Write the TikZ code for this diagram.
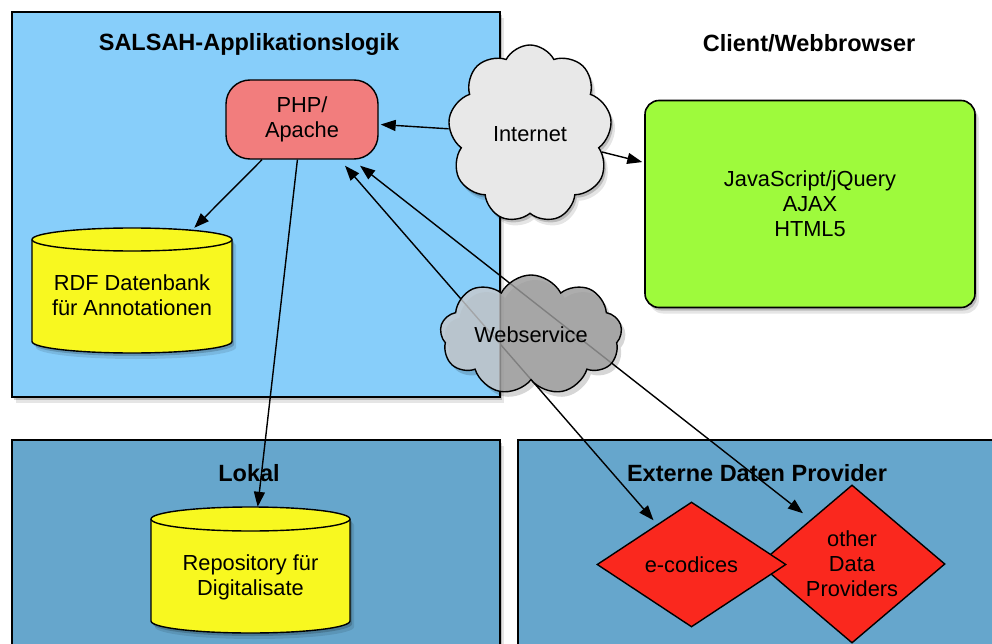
\documentclass[tikz,border=0pt]{standalone}
\usepackage{fontspec}
\setmainfont{Liberation Sans}
\usetikzlibrary{shapes.symbols,shapes.geometric,arrows.meta,calc,shadows}

\definecolor{salsahblue}{RGB}{135,206,250}
\definecolor{darkblue}{RGB}{102,166,204}
\definecolor{clientgreen}{RGB}{158,250,60}
\definecolor{phpred}{RGB}{242,125,125}
\definecolor{dbyellow}{RGB}{248,248,32}
\definecolor{provred}{RGB}{250,40,30}
\definecolor{inetgray}{RGB}{232,232,232}
\definecolor{wsleft}{RGB}{200,202,205}
\definecolor{wsright}{RGB}{156,156,156}

\begin{document}
\begin{tikzpicture}[x=1pt,y=-1pt,
  font=\fontsize{21.8}{25}\selectfont,
  titletext/.style={font=\fontsize{23.5}{27}\selectfont\bfseries,anchor=base},
  sh/.style={drop shadow={shadow xshift=2pt,shadow yshift=-3pt,opacity=0.18,fill=black},
             drop shadow={shadow xshift=4pt,shadow yshift=-6pt,opacity=0.10,fill=black}},
  boxline/.style={draw=black,line width=1.6pt},
  thin/.style={draw=black,line width=1.4pt},
  arr/.style={line width=1.4pt,-{Triangle[length=15pt,width=11pt]}},
  dbl/.style={line width=1.4pt,{Triangle[length=15pt,width=11pt]}-{Triangle[length=15pt,width=11pt]}},
  prov/.style={diamond,thin,fill=provred,inner sep=0pt,align=center},
  inetcloud/.style={cloud,cloud puffs=9,cloud puff arc=125,cloud ignores aspect,
                    minimum width=164pt,minimum height=178pt,inner sep=0pt},
  wscloud/.style={cloud,cloud puffs=9,cloud puff arc=125,cloud ignores aspect,
                  minimum width=182pt,minimum height=120pt,inner sep=0pt}
]
\useasboundingbox (0,0) rectangle (992,644);
\fill[white] (0,0) rectangle (992,644);

% containers
\draw[boxline,sh,fill=salsahblue] (12,12) rectangle (500,397);
\draw[boxline,sh,fill=darkblue] (12,440) rectangle (500,670);
\draw[boxline,sh,fill=darkblue] (518,440) rectangle (1010,670);

% titles
\node[titletext] (tsalsah) at (249,51) {SALSAH-Applikationslogik};
\node[titletext] (tclient) at (809,52) {Client/Webbrowser};
\node[titletext] (tlokal) at (249,481) {Lokal};
\node[titletext] (textern) at (757,481) {Externe Daten Provider};

% client box
\node[boxline,sh,fill=clientgreen,rounded corners=14pt,minimum width=330pt,
      minimum height=207pt,align=center] (client) at (810,204)
      {JavaScript/jQuery\\AJAX\\HTML5};

% PHP
\node[thin,fill=phpred,rounded corners=24pt,minimum width=152pt,minimum height=79pt,
      align=center] (php) at (302,119.5) {PHP/\\Apache};

% RDF cylinder
\node[minimum width=200pt,minimum height=125pt,inner sep=0pt] (rdf) at (132,290.5) {};
\filldraw[thin,fill=dbyellow,sh] (32,239.5) -- (32,341.5)
  arc[start angle=180,end angle=360,x radius=100pt,y radius=11.5pt] -- (232,239.5)
  arc[start angle=0,end angle=180,x radius=100pt,y radius=11.5pt] -- cycle;
\draw[thin] (32,239.5) arc[start angle=180,end angle=360,x radius=100pt,y radius=11.5pt];
\node[align=center] (rdftext) at ($(rdf)+(0,5)$) {RDF Datenbank\\für Annotationen};

% Repository cylinder
\node[minimum width=199pt,minimum height=126pt,inner sep=0pt] (repo) at (250.5,570) {};
\filldraw[thin,fill=dbyellow,sh] (151,519) -- (151,621)
  arc[start angle=180,end angle=360,x radius=99.5pt,y radius=12pt] -- (350,519)
  arc[start angle=0,end angle=180,x radius=99.5pt,y radius=12pt] -- cycle;
\draw[thin] (151,519) arc[start angle=180,end angle=360,x radius=99.5pt,y radius=12pt];
\node[align=center] (repotext) at ($(repo)+(0,7)$) {Repository für\\Digitalisate};

% providers
\node[prov,minimum width=186pt,minimum height=138pt] (other) at (852,564) {other\\Data\\Providers};
\node[prov,minimum width=189pt,minimum height=125pt] (ecod) at (691.5,564.5) {e-codices};

% Internet cloud
\node[inetcloud,thin,fill=inetgray,sh] (inet) at (530,134) {Internet};

% connectors
\draw[arr,shorten >=2pt] (inet) -- (php);
\draw[arr,shorten >=2pt] (inet) -- (client);
\draw[arr] (php) -- (rdf);
\draw[arr] (php) -- (repo);
\coordinate (a1) at ($(php.south)+(43,6)$);
\coordinate (b1) at ($(ecod.north)+(-38,19)$);
\coordinate (a2) at ($(php.south)+(58,6)$);
\coordinate (b2) at ($(other.north)+(-49,29)$);
\draw[dbl] (a1) -- (b1);
\draw[dbl] (a2) -- (b2);

% Webservice cloud (semi-transparent)
\coordinate (wsc) at (531,335);
\node[wscloud,fill=black,fill opacity=0.16,draw=none] (wsshadow) at ($(wsc)+(4,5)$) {};
\begin{scope}
  \clip (0,0) rectangle (500,644);
  \node[wscloud,fill=wsleft,fill opacity=0.82,draw=none] (wsl) at (wsc) {};
\end{scope}
\begin{scope}
  \clip (500,0) rectangle (992,644);
  \node[wscloud,fill=wsright,fill opacity=0.82,draw=none] (wsr) at (wsc) {};
\end{scope}
\node[wscloud,thin] (ws) at (wsc) {Webservice};
\end{tikzpicture}
\end{document}
